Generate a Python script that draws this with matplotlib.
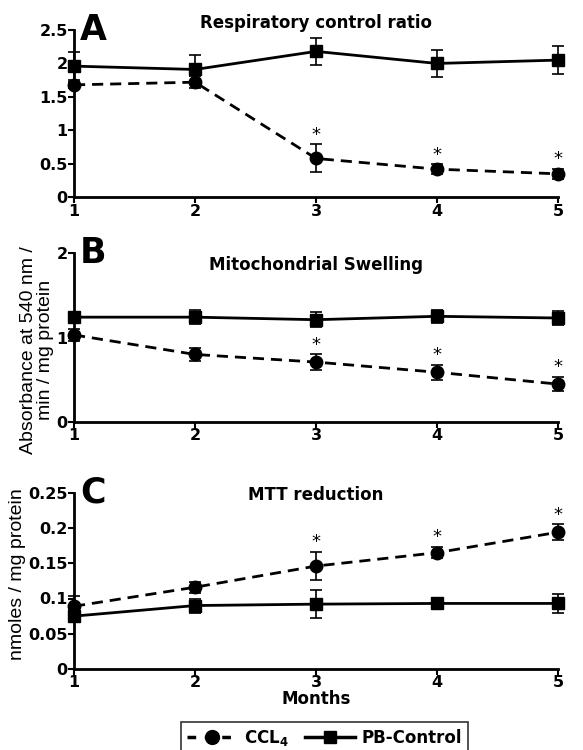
import matplotlib
matplotlib.use('Agg')
import matplotlib.pyplot as plt
from matplotlib.lines import Line2D

plt.rcParams['font.family'] = ['DejaVu Sans']
plt.rcParams['font.weight'] = 'bold'

months = [1, 2, 3, 4, 5]

# A: respiratory control ratio
rcr_ccl4 = [1.68, 1.72, 0.58, 0.42, 0.35]
rcr_ccl4_err = [0.05, 0.09, 0.21, 0.07, 0.07]
rcr_ctrl = [1.96, 1.91, 2.18, 2.00, 2.05]
rcr_ctrl_err = [0.21, 0.21, 0.20, 0.20, 0.21]

# B: mitochondrial swelling
sw_ccl4 = [1.03, 0.80, 0.71, 0.59, 0.45]
sw_ccl4_err = [0.07, 0.08, 0.09, 0.09, 0.08]
sw_ctrl = [1.24, 1.24, 1.21, 1.25, 1.23]
sw_ctrl_err = [0.06, 0.08, 0.09, 0.08, 0.08]

# C: MTT reduction
mtt_ccl4 = [0.089, 0.116, 0.146, 0.165, 0.194]
mtt_ccl4_err = [0.015, 0.008, 0.02, 0.008, 0.011]
mtt_ctrl = [0.075, 0.090, 0.092, 0.093, 0.093]
mtt_ctrl_err = [0.008, 0.010, 0.020, 0.008, 0.013]

signif = [3, 4, 5]

panels = [
    dict(letter='A', title='Respiratory control ratio', ccl4=rcr_ccl4, ccl4_err=rcr_ccl4_err,
         ctrl=rcr_ctrl, ctrl_err=rcr_ctrl_err, ylim=(0, 2.5),
         yticks=[0, 0.5, 1, 1.5, 2, 2.5], ylabels=['0', '0.5', '1', '1.5', '2', '2.5'],
         ylabel=None, rect=[0.127, 0.737, 0.830, 0.223], title_y=1.04),
    dict(letter='B', title='Mitochondrial Swelling', ccl4=sw_ccl4, ccl4_err=sw_ccl4_err,
         ctrl=sw_ctrl, ctrl_err=sw_ctrl_err, ylim=(0, 2),
         yticks=[0, 1, 2], ylabels=['0', '1', '2'],
         ylabel='Absorbance at 540 nm /\nmin / mg protein', label_xy=(-0.042, 0.426),
         rect=[0.127, 0.437, 0.830, 0.226], title_y=0.93),
    dict(letter='C', title='MTT reduction', ccl4=mtt_ccl4, ccl4_err=mtt_ccl4_err,
         ctrl=mtt_ctrl, ctrl_err=mtt_ctrl_err, ylim=(0, 0.25),
         yticks=[0, 0.05, 0.1, 0.15, 0.2, 0.25],
         ylabels=['0', '0.05', '0.1', '0.15', '0.2', '0.25'],
         ylabel='nmoles / mg protein', label_xy=(-0.10, 0.54),
         rect=[0.127, 0.108, 0.830, 0.235], title_y=0.99),
]

fig = plt.figure(figsize=(5.83, 7.5), dpi=100)

for p in panels:
    ax = fig.add_axes(p['rect'])
    ax.errorbar(months, p['ctrl'], yerr=p['ctrl_err'], color='black', lw=2, ls='-',
                marker='s', ms=8.5, capsize=4, elinewidth=1.2, capthick=1.2, clip_on=False)
    ax.errorbar(months, p['ccl4'], yerr=p['ccl4_err'], color='black', lw=2, ls=(0, (4, 2.5)),
                marker='o', ms=9, capsize=4, elinewidth=1.2, capthick=1.2, clip_on=False)
    span = p['ylim'][1] - p['ylim'][0]
    for m in signif:
        i = months.index(m)
        ax.text(m, p['ccl4'][i] + p['ccl4_err'][i] + 0.005 * span, '*', ha='center',
                va='bottom', fontsize=13, fontweight='normal')
    ax.set_xlim(1, 5)
    ax.set_ylim(*p['ylim'])
    ax.set_xticks(months)
    ax.set_yticks(p['yticks'])
    ax.set_yticklabels(p['ylabels'])
    ax.tick_params(labelsize=11.5, width=1.5, length=4, direction='out', pad=0.5)
    for s in ['top', 'right']:
        ax.spines[s].set_visible(False)
    for s in ['left', 'bottom']:
        ax.spines[s].set_linewidth(2)
    ax.text(0.012, 1.0, p['letter'], transform=ax.transAxes, fontsize=25,
            fontweight='bold', va='center', ha='left')
    ax.text(0.5, p['title_y'], p['title'], transform=ax.transAxes, fontsize=12,
            fontweight='bold', ha='center', va='center')
    if p['ylabel']:
        ax.set_ylabel(p['ylabel'], fontsize=14, fontweight='normal', linespacing=1.0,
                      family='Liberation Sans')
        ax.yaxis.set_label_coords(*p['label_xy'])
    if p['letter'] == 'C':
        ax.set_xlabel('Months', fontsize=12, fontweight='bold', labelpad=0)

handles = [
    Line2D([], [], color='black', lw=2.5, ls=(0, (2.5, 2.5)), marker='o', ms=10),
    Line2D([], [], color='black', lw=2.5, ls='-', marker='s', ms=9),
]
leg = fig.legend(handles, ['CCL$_4$', 'PB-Control'], loc='upper center',
                 bbox_to_anchor=(0.557, 0.0373), ncol=2, fontsize=12, frameon=True,
                 fancybox=False, edgecolor='black', handlelength=3.0, columnspacing=1.0,
                 handletextpad=0.4, borderpad=0.35, borderaxespad=0)
leg.get_frame().set_linewidth(1.2)
for t in leg.get_texts():
    t.set_fontweight('bold')

fig.savefig('out.png', dpi=100)
